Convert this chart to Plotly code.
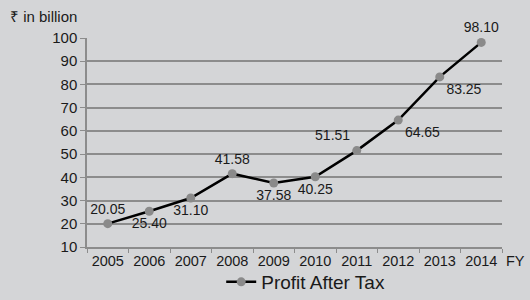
import plotly.graph_objects as go

years = ["2005", "2006", "2007", "2008", "2009", "2010", "2011", "2012", "2013", "2014"]
profit = [20.05, 25.40, 31.10, 41.58, 37.58, 40.25, 51.51, 64.65, 83.25, 98.10]
label_pos = ["top center", "bottom center", "bottom center", "top center", "bottom center",
             "bottom center", "top left", "bottom right", "bottom right", "top center"]
series_name = "Profit After Tax"

BG = "#d4d5d7"
GRID = "#8c8c8c"
FONT = "Liberation Sans, Arial, sans-serif"

fig = go.Figure()
fig.add_trace(go.Scatter(
    x=years, y=profit, mode="lines+markers+text", name=series_name,
    text=[f"{v:.2f}" for v in profit], textposition=label_pos,
    textfont=dict(size=14, color="#1a1a1a", family=FONT),
    line=dict(color="#000000", width=2.5),
    marker=dict(color="#8a8a8a", size=9),
    cliponaxis=False,
))

fig.update_layout(
    width=530, height=300,
    paper_bgcolor=BG, plot_bgcolor=BG,
    margin=dict(l=87, r=28, t=38, b=53, autoexpand=False),
    font=dict(family=FONT, size=15, color="#1a1a1a"),
    showlegend=True,
    legend=dict(orientation="h", x=0.527, xanchor="center", yref="container", y=0.06,
                yanchor="middle", font=dict(size=19), bgcolor="rgba(0,0,0,0)"),
    xaxis=dict(type="category", range=[-0.5, 9.5], showline=True, linecolor=GRID, linewidth=1.5,
               ticks="outside", tickson="boundaries", ticklen=4, tickcolor=GRID,
               showgrid=False, tickfont=dict(size=14.5), automargin=False),
    yaxis=dict(range=[10, 100], dtick=10, showline=True, linecolor=GRID, linewidth=1.5,
               ticks="outside", ticklen=5, tickcolor=GRID, showgrid=True, gridcolor=GRID,
               gridwidth=1.5, zeroline=False, tickfont=dict(size=15), automargin=False),
)

fig.add_annotation(text="₹ in billion", xref="paper", yref="paper", x=-0.19, y=1.0,
                   yshift=22, xanchor="left", yanchor="middle", showarrow=False,
                   font=dict(size=15))
fig.add_annotation(text="FY", xref="paper", yref="paper", x=1.0, y=0, xshift=13,
                   yshift=-14, xanchor="center", yanchor="middle", showarrow=False,
                   font=dict(size=14.5))

fig.write_html("out.html", config={"displayModeBar": False},
               post_script="document.body.style.margin='0px';document.body.style.background='%s';" % BG)
